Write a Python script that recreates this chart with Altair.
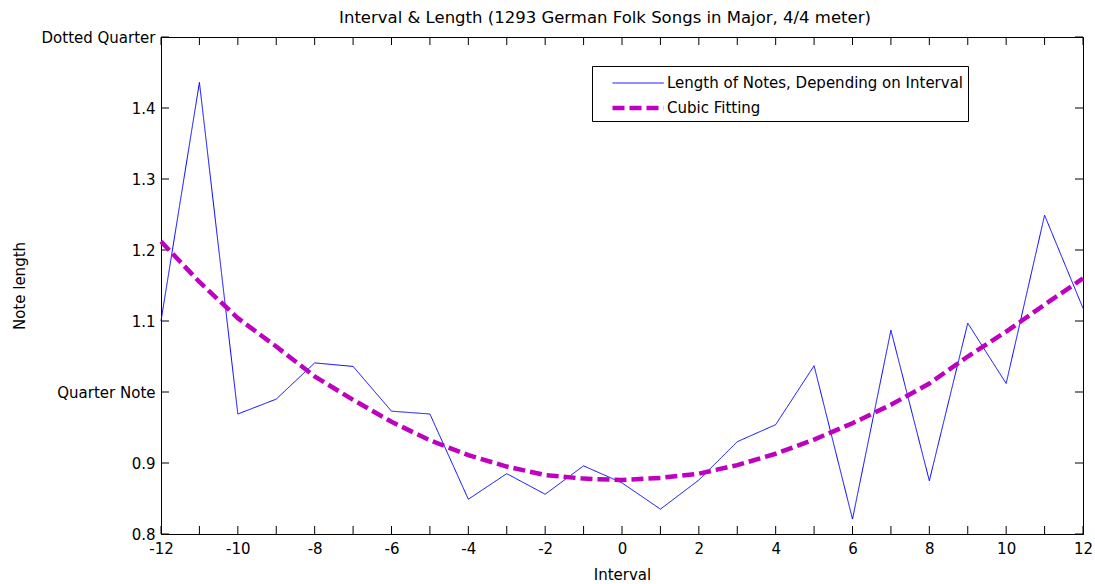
import altair as alt
import pandas as pd

intervals = list(range(-12, 13))
note_length = [1.100, 1.436, 0.969, 0.990, 1.041, 1.036, 0.973, 0.969, 0.849,
               0.885, 0.856, 0.896, 0.872, 0.835, 0.876, 0.930, 0.954, 1.037,
               0.821, 1.087, 0.875, 1.097, 1.012, 1.249, 1.118]
cubic_fit = [1.212, 1.155, 1.104, 1.064, 1.022, 0.989, 0.958, 0.932, 0.911,
             0.895, 0.883, 0.878, 0.876, 0.879, 0.885, 0.897, 0.913, 0.933,
             0.956, 0.982, 1.012, 1.050, 1.085, 1.123, 1.160]
series_names = ["Length of Notes, Depending on Interval", "Cubic Fitting"]
x_ticks = list(range(-12, 13))
y_ticks = [0.8, 0.9, 1.0, 1.1, 1.2, 1.3, 1.4, 1.5]

rows = []
for name, vals in zip(series_names, [note_length, cubic_fit]):
    for xi, v in zip(intervals, vals):
        rows.append({"Interval": xi, "Length": v, "series": name})
df = pd.DataFrame(rows)

W, H = 922, 497
FONT = "DejaVu Sans"

xscale = alt.Scale(domain=[-12, 12], nice=False, zero=False)
yscale = alt.Scale(domain=[0.8, 1.5], nice=False, zero=False)

label_expr = ("abs(datum.value-1) < 1e-6 ? 'Quarter Note' : "
              "abs(datum.value-1.5) < 1e-6 ? 'Dotted Quarter' : format(datum.value, '.1f')")

legend_cfg = dict(title=None, orient="none", legendX=431, legendY=29,
                  symbolType="M-1,0H3.1", symbolSize=625,
                  labelFontSize=15, labelFont=FONT, labelColor="black",
                  strokeColor="black", fillColor="white",
                  padding=4, rowPadding=2, labelOffset=27, symbolOffset=14,
                  labelLimit=500)

lines = alt.Chart(df).mark_line().encode(
    x=alt.X("Interval:Q", scale=xscale,
            axis=alt.Axis(values=x_ticks, title="Interval", ticks=False,
                          labelPadding=7, titlePadding=11,
                          labelExpr="'' + datum.value",
                          labelOverlap=False, labelFlush=False)),
    y=alt.Y("Length:Q", scale=yscale,
            axis=alt.Axis(values=y_ticks, title="Note length", ticks=False,
                          labelPadding=6, labelExpr=label_expr, titlePadding=14,
                          labelOverlap=False, labelFlush=False)),
    color=alt.Color("series:N",
                    scale=alt.Scale(domain=series_names, range=["#0000ff", "#bf00bf"]),
                    legend=alt.Legend(**legend_cfg)),
    strokeDash=alt.StrokeDash("series:N",
                              scale=alt.Scale(domain=series_names, range=[[1, 0], [12, 5]]),
                              legend=alt.Legend(**legend_cfg)),
    strokeWidth=alt.StrokeWidth("series:N",
                                scale=alt.Scale(domain=series_names, range=[1, 4.5]),
                                legend=alt.Legend(**legend_cfg)),
    order=alt.Order("Interval:Q"),
)

tick_x_df = pd.DataFrame({"t": x_ticks})
tick_y_df = pd.DataFrame({"t": y_ticks})

xt_bottom = alt.Chart(tick_x_df).mark_rule(color="black", strokeWidth=1).encode(
    x=alt.X("t:Q", scale=xscale), y=alt.value(H), y2=alt.value(H - 8))
xt_top = alt.Chart(tick_x_df).mark_rule(color="black", strokeWidth=1).encode(
    x=alt.X("t:Q", scale=xscale), y=alt.value(0), y2=alt.value(8))
yt_left = alt.Chart(tick_y_df).mark_rule(color="black", strokeWidth=1).encode(
    y=alt.Y("t:Q", scale=yscale), x=alt.value(0), x2=alt.value(8))
yt_right = alt.Chart(tick_y_df).mark_rule(color="black", strokeWidth=1).encode(
    y=alt.Y("t:Q", scale=yscale), x=alt.value(W), x2=alt.value(W - 8))

chart = alt.layer(xt_bottom, xt_top, yt_left, yt_right, lines).properties(
    width=W, height=H,
    background="white",
    title=alt.TitleParams("Interval & Length (1293 German Folk Songs in Major, 4/4 meter)",
                          fontSize=16.5, fontWeight="normal", font=FONT, color="black",
                          anchor="middle", offset=4, dx=-17),
    autosize=alt.AutoSizeParams(type="none"),
    padding={"left": 161, "top": 37, "right": 12, "bottom": 50},
).configure_view(stroke="black", strokeWidth=1).configure_axis(
    labelFont=FONT, titleFont=FONT, labelFontSize=15, titleFontSize=15,
    labelColor="black", titleColor="black", titleFontWeight="normal",
    domainColor="black", domainWidth=1, grid=False,
)

chart.save("out.html", embed_options={"renderer": "svg", "actions": False})
